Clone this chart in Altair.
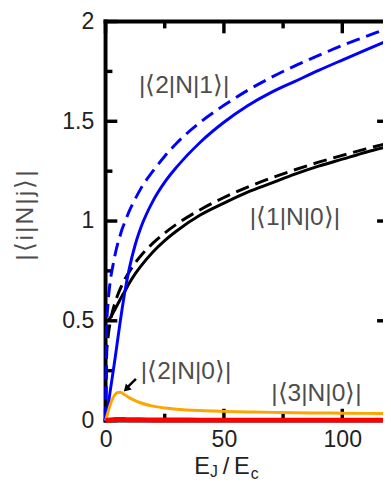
import altair as alt
import pandas as pd

# ---- data ----
x_vals = [0, 0.5, 1, 2, 3, 4, 5, 6, 7, 8, 10, 12.5, 15, 20, 25, 30, 40, 50, 60, 70, 80, 90, 100, 110, 120]

n21_exact = [0, 0.03, 0.07, 0.15, 0.23, 0.31, 0.395, 0.48, 0.56, 0.635, 0.76, 0.88, 0.97, 1.10, 1.195,
             1.27, 1.395, 1.495, 1.578, 1.645, 1.70, 1.755, 1.807, 1.858, 1.908]
n21_approx = [0, 0.48, 0.58, 0.70, 0.77, 0.83, 0.88, 0.92, 0.96, 0.99, 1.05, 1.11, 1.165, 1.25, 1.325,
              1.39, 1.495, 1.58, 1.655, 1.72, 1.778, 1.83, 1.88, 1.925, 1.97]
n10_exact = [0.5, 0.5, 0.503, 0.515, 0.535, 0.558, 0.58, 0.603, 0.625, 0.645, 0.688, 0.735, 0.775, 0.845,
             0.902, 0.95, 1.03, 1.09, 1.145, 1.19, 1.235, 1.275, 1.31, 1.345, 1.375]
n10_approx = [0, 0.34, 0.41, 0.495, 0.55, 0.59, 0.625, 0.655, 0.68, 0.705, 0.745, 0.79, 0.827, 0.889,
              0.94, 0.984, 1.057, 1.118, 1.17, 1.216, 1.257, 1.295, 1.329, 1.362, 1.392]
n20 = [0, 0.02, 0.04, 0.08, 0.11, 0.13, 0.14, 0.142, 0.138, 0.13, 0.115, 0.10, 0.088, 0.072, 0.063,
       0.057, 0.05, 0.046, 0.043, 0.041, 0.039, 0.038, 0.037, 0.036, 0.035]
n30 = [0, 0.001, 0.002, 0.003, 0.004, 0.005, 0.005, 0.005, 0.005, 0.005, 0.004, 0.004, 0.004, 0.003,
       0.003, 0.003, 0.002, 0.002, 0.002, 0.002, 0.002, 0.002, 0.002, 0.002, 0.002]

y_major = [0, 0.5, 1, 1.5, 2]
y_minor = [0.25, 0.75, 1.25, 1.75]
y_right = [0.5, 1, 1.5]
x_major = [0, 50, 100]
x_minor = [25, 75]

label_21 = "|⟨2|N|1⟩|"
label_10 = "|⟨1|N|0⟩|"
label_20 = "|⟨2|N|0⟩|"
label_30 = "|⟨3|N|0⟩|"
y_title = "|\u200a⟨\u200ai\u200a|\u200aN\u200a|\u200aj\u200a⟩\u200a|"

# ---- layout ----
W, H = 283, 407
FONT = "Liberation Sans"
xs = alt.Scale(domain=[0, 117.2], nice=False, zero=False)
ys = alt.Scale(domain=[0, 2], nice=False, zero=False)

X_AXIS = alt.Axis(values=x_major, domain=False, ticks=False, grid=False, title=None,
                  labelPadding=7.5, labelFontSize=23.5, labelFont=FONT,
                  labelColor="#222222", labelFlush=False, labelOverlap=False)
Y_AXIS = alt.Axis(values=y_major, format="~g", domain=False, ticks=False, grid=False,
                  title=None, labelPadding=12, labelFontSize=23.5, labelFont=FONT,
                  labelColor="#222222", labelFlush=False, labelOverlap=False)

X = alt.X("x:Q", scale=xs, axis=X_AXIS)
Y = alt.Y("y:Q", scale=ys, axis=Y_AXIS)


def line_layer(vals, color, dash=None, width=3.0):
    df = pd.DataFrame({"x": x_vals, "y": vals})
    kw = dict(color=color, strokeWidth=width, interpolate="monotone")
    if dash:
        kw["strokeDash"] = dash
    return alt.Chart(df).mark_line(**kw).encode(x=X, y=Y)


one = pd.DataFrame({"a": [0]})


def frame(**enc):
    return alt.Chart(one).mark_rule(color="black", strokeWidth=4, strokeCap="square").encode(**enc)


def yticks(vals, x0, x1):
    return alt.Chart(pd.DataFrame({"y": vals})).mark_rule(color="black", strokeWidth=3.5).encode(
        y=Y, x=alt.value(x0), x2=alt.value(x1))


def xticks(vals, y0, y1):
    return alt.Chart(pd.DataFrame({"x": vals})).mark_rule(color="black", strokeWidth=3.5).encode(
        x=X, y=alt.value(y0), y2=alt.value(y1))


def text(label, x, y, size=25, color="#4d4d4d", align="left", angle=0):
    return alt.Chart(pd.DataFrame({"t": [label]})).mark_text(
        font=FONT, fontSize=size, color=color, align=align, baseline="middle", angle=angle
    ).encode(x=alt.value(x), y=alt.value(y), text="t:N")


def text_base(label, x, y, size, color="#222222"):
    return alt.Chart(pd.DataFrame({"t": [label]})).mark_text(
        font=FONT, fontSize=size, color=color, align="left", baseline="alphabetic"
    ).encode(x=alt.value(x), y=alt.value(y), text="t:N")


layers = [
    yticks(y_major, 0, 12),
    yticks(y_minor, 0, 7),
    yticks(y_right, W - 6, W + 2),
    xticks(x_major, 0, 12),
    xticks(x_minor, 0, 7),
    xticks(x_major, H, H - 12),
    xticks(x_minor, H, H - 7),
    frame(x=alt.value(0), x2=alt.value(W + 10), y=alt.value(0)),
    frame(x=alt.value(0), y=alt.value(0), y2=alt.value(H)),
    frame(x=alt.value(0), x2=alt.value(W + 10), y=alt.value(H)),
    line_layer(n10_exact, "black"),
    line_layer(n10_approx, "black", dash=[14, 7]),
    line_layer(n21_exact, "#0000ff"),
    line_layer(n21_approx, "#0000ff", dash=[14, 7]),
    line_layer(n20, "#ffa500"),
    line_layer(n30, "#ff0000", width=5),
    text(label_21, 34, 65),
    text(label_10, 147, 200),
    text(label_20, 36, 357),
    text(label_30, 169, 379),
    text(y_title, -82.5, 198, size=25, align="center", angle=270),
    alt.Chart(one).mark_rule(color="black", strokeWidth=2.5).encode(
        x=alt.value(31), y=alt.value(364.5), x2=alt.value(22.5), y2=alt.value(373)),
    alt.Chart(one).mark_point(shape="triangle", filled=True, size=70, angle=225, color="black",
                              opacity=1).encode(x=alt.value(22), y=alt.value(374)),
    text_base("E", 90.5, 461.3, 24),
    text_base("J", 106.5, 465, 16),
    text_base("/", 119.5, 461.3, 24),
    text_base("E", 131, 461.3, 24),
    text_base("c", 148, 467, 16),
]

chart = alt.layer(*layers).properties(
    width=W, height=H,
    autosize=alt.AutoSizeParams(type="none"),
    padding={"left": 99.5, "top": 9, "right": 0, "bottom": 64},
).configure_view(stroke=None)

chart.save("out.html", embed_options={"renderer": "svg", "actions": False})
